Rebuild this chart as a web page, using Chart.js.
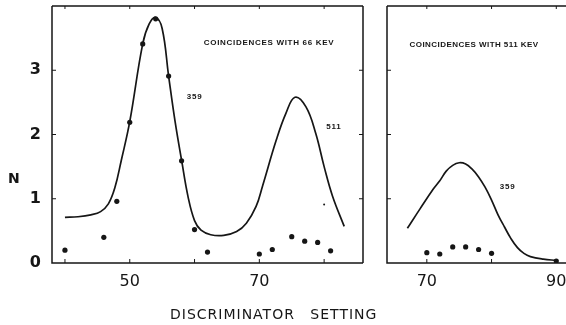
<!DOCTYPE html>
<html><head><meta charset="utf-8">
<script src="https://cdn.jsdelivr.net/npm/chart.js@4/dist/chart.umd.min.js"></script>
<style>
html,body{margin:0;padding:0;background:#fff;}
#wrap{position:relative;width:566px;height:325px;overflow:hidden;background:#fff;}
#c1{position:absolute;left:0;top:0;}
#c2{position:absolute;left:330px;top:0;}
.lbl{position:absolute;color:#161616;font-family:"DejaVu Sans",sans-serif;white-space:pre;}
</style></head><body>
<div id="wrap">
<canvas id="c1" width="370" height="325"></canvas>
<canvas id="c2" width="236" height="325"></canvas>
<div class="lbl" style="left:8px;top:170px;font-size:14px;font-weight:bold;">N</div>
<div class="lbl" style="left:170px;top:306px;font-size:14px;letter-spacing:1px;word-spacing:10px;">DISCRIMINATOR SETTING</div>
</div>
<script>
// ---- data ----
// Left panel: coincidences with 66 keV
const leftCurveX = [40,42,44,45.5,46.7,47.7,48.7,50,52,53,54,55,56,57,58,59,60,61,62.5,64.5,66.5,68,69.5,70.5,72.6,74.1,75.5,77.2,78.7,80,81.3,83.1];
const leftCurveN = [0.71,0.72,0.75,0.80,0.92,1.17,1.6,2.2,3.41,3.72,3.82,3.65,2.91,2.2,1.6,1.03,0.66,0.51,0.44,0.43,0.49,0.62,0.88,1.2,1.91,2.33,2.58,2.43,2.02,1.5,1.04,0.57];
const leftPtsX = [40,46,48,50,52,54,56,58,60,62,70,72,75,77,79,81];
const leftPtsN = [0.20,0.40,0.96,2.19,3.41,3.80,2.91,1.59,0.52,0.17,0.14,0.21,0.41,0.34,0.32,0.19];
const leftSpeckX = [80];
const leftSpeckN = [0.91];
// Right panel: coincidences with 511 keV
const rightCurveX = [67,69,71,72,73,74,75,76,77,78,79,80,81,82,83,84,85,86,88,90];
const rightCurveN = [0.54,0.85,1.15,1.28,1.43,1.52,1.56,1.54,1.46,1.34,1.18,0.98,0.75,0.56,0.38,0.24,0.15,0.10,0.06,0.04];
const rightPtsX = [70,72,74,76,78,80,90];
const rightPtsN = [0.16,0.14,0.25,0.25,0.21,0.15,0.03];
// ticks
const leftXTicks = [40,50,60,70,80];
const leftXLabels = [50,70];
const rightXTicks = [70,80,90];
const rightXLabels = [70,90];
const yTicks = [0,1,2,3];
const yLabels = [0,1,2,3];
// annotations (text, x, N)
const leftNotes = [["COINCIDENCES WITH 66 KEV",71.5,3.43,0.7],["359",60,2.58,0.8],["511",81.5,2.12,0.8]];
const rightNotes = [["COINCIDENCES WITH 511 KEV",77.3,3.40,0.45],["359",82.5,1.19,0.8]];

const INK = '#161616';
const FONT = '"DejaVu Sans", sans-serif';
const pts = (xs, ys) => xs.map((x,i)=>({x, y:ys[i]}));

function framePlugin(xMarks, drawRight) {
  return {
    id:'frame',
    beforeDatasetsDraw(chart){
      const {ctx, chartArea:a, scales:{x,y}} = chart;
      ctx.save();
      ctx.strokeStyle = INK; ctx.lineWidth = 1.5;
      ctx.beginPath();
      ctx.moveTo(a.left, a.top); ctx.lineTo(a.left, a.bottom); ctx.lineTo(a.right, a.bottom);
      ctx.moveTo(a.left, a.top); ctx.lineTo(a.right, a.top);
      if (drawRight) { ctx.moveTo(a.right, a.top); ctx.lineTo(a.right, a.bottom); }
      ctx.stroke();
      ctx.lineWidth = 1;
      ctx.beginPath();
      xMarks.forEach(v=>{
        const px = x.getPixelForValue(v);
        ctx.moveTo(px, a.bottom); ctx.lineTo(px, a.bottom-4);
        ctx.moveTo(px, a.top); ctx.lineTo(px, a.top+3);
      });
      yTicks.forEach(v=>{
        if (v===0) return;
        const py = y.getPixelForValue(v);
        ctx.moveTo(a.left, py); ctx.lineTo(a.left+4, py);
        if (drawRight) { ctx.moveTo(a.right, py); ctx.lineTo(a.right-4, py); }
      });
      ctx.stroke();
      ctx.restore();
    }
  };
}
function notesPlugin(notes) {
  return {
    id:'notes',
    afterDatasetsDraw(chart){
      const {ctx, scales:{x,y}} = chart;
      ctx.save();
      ctx.fillStyle = INK;
      ctx.textAlign = 'center'; ctx.textBaseline = 'middle';
      notes.forEach(([t,xv,yv,sp])=>{
        ctx.font = 'bold 8px "Liberation Sans", sans-serif';
        ctx.letterSpacing = sp + 'px';
        ctx.fillText(t, x.getPixelForValue(xv), y.getPixelForValue(yv));
      });
      ctx.restore();
    }
  };
}
function makeChart(id, cfg) {
  return new Chart(document.getElementById(id), {
    type:'scatter',
    data:{datasets:[
      {type:'line', data:pts(cfg.cx, cfg.cy), borderColor:INK, borderWidth:1.7, pointRadius:0,
       tension:0.4, fill:false},
      {type:'scatter', data:pts(cfg.px, cfg.py), pointRadius:2.6, backgroundColor:INK, borderWidth:0},
      {type:'scatter', data:pts(cfg.sx||[], cfg.sy||[]), pointRadius:1, backgroundColor:INK, borderWidth:0}
    ]},
    options:{
      responsive:false, animation:false, events:[],
      plugins:{legend:{display:false}, tooltip:{enabled:false}},
      layout:{autoPadding:false, padding:{top:6, right:cfg.padRight, left:0, bottom:0}},
      scales:{
        x:{type:'linear', min:cfg.xmin, max:cfg.xmax,
           grid:{display:false, drawTicks:false}, border:{display:false},
           afterBuildTicks:s=>{ s.ticks = cfg.xt.map(v=>({value:v})); },
           ticks:{callback:v=> cfg.xl.includes(v) ? String(v) : '', font:{family:FONT, size:16}, color:INK,
                  padding:9, maxRotation:0, autoSkip:false},
           afterFit:s=>{ s.height = 62; s.paddingLeft = 0; s.paddingRight = 0; }},
        y:{type:'linear', min:0, max:4,
           grid:{display:false, drawTicks:false}, border:{display:false},
           afterBuildTicks:s=>{ s.ticks = yTicks.map(v=>({value:v})); },
           ticks:{display:cfg.yLabels, callback:v=> yLabels.includes(v) ? String(v) : '', font:{family:FONT, size:16, weight:'bold'},
                  color:INK, padding:11, autoSkip:false},
           afterFit:s=>{ s.width = cfg.yw; s.paddingTop = 0; s.paddingBottom = 0; }}
      }
    },
    plugins:[framePlugin(cfg.xt, cfg.right), notesPlugin(cfg.notes)]
  });
}
makeChart('c1', {cx:leftCurveX, cy:leftCurveN, px:leftPtsX, py:leftPtsN, sx:leftSpeckX, sy:leftSpeckN,
  xmin:38, xmax:86, xt:leftXTicks, xl:leftXLabels, yw:52, padRight:7, right:true, yLabels:true, notes:leftNotes});
makeChart('c2', {cx:rightCurveX, cy:rightCurveN, px:rightPtsX, py:rightPtsN,
  xmin:63.85, xmax:91.5, xt:rightXTicks, xl:rightXLabels, yw:57, padRight:0, right:false, yLabels:false, notes:rightNotes});
</script>
</body></html>
